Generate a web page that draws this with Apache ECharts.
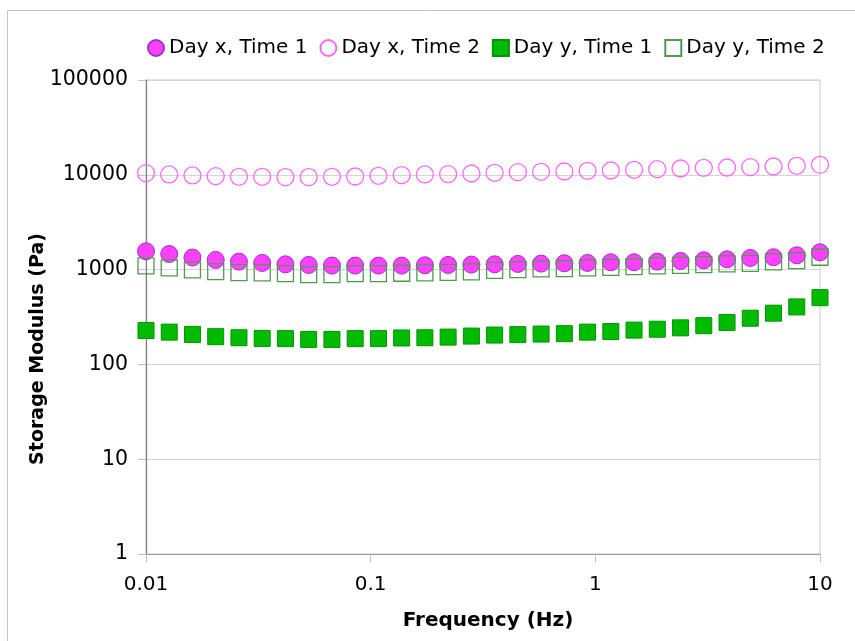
<!DOCTYPE html>
<html>
<head>
<meta charset="utf-8">
<title>Storage Modulus vs Frequency</title>
<script src="https://cdn.jsdelivr.net/npm/echarts@6/dist/echarts.min.js"></script>
<style>
  html, body { margin: 0; padding: 0; background: #ffffff; }
  #chart { width: 855px; height: 641px; }
</style>
</head>
<body>
<div id="chart"></div>
<script>
// Frequency sweep points (Hz)
const frequency = [0.01, 0.01269, 0.01610, 0.02043, 0.02593, 0.03290, 0.04175, 0.05298, 0.06723, 0.08532,
  0.1083, 0.1374, 0.1743, 0.2212, 0.2807, 0.3562, 0.4520, 0.5736, 0.7279, 0.9237,
  1.172, 1.487, 1.887, 2.395, 3.039, 3.857, 4.894, 6.210, 7.880, 10];

// Storage modulus G' (Pa) for each sample
const dayXTime1 = [1560, 1460, 1340, 1265, 1214, 1176, 1137, 1120, 1102, 1102,
  1102, 1102, 1110, 1120, 1129, 1137, 1148, 1157, 1166, 1176,
  1195, 1195, 1214, 1235, 1254, 1284, 1328, 1349, 1416, 1523];
const dayXTime2 = [10420, 10080, 9840, 9690, 9530, 9530, 9460, 9460, 9530, 9600,
  9760, 9930, 10080, 10170, 10320, 10500, 10670, 10760, 10840, 11020,
  11100, 11290, 11480, 11660, 11850, 11940, 12050, 12240, 12450, 12740];
const dayYTime1 = [228, 219, 207, 196, 191, 188, 187, 183.5, 183.5, 187,
  187, 190, 191, 194, 199, 204, 206, 209, 211, 219,
  222, 230, 235, 243, 256, 277, 307, 347, 404, 506];
const dayYTime2 = [1094, 1042, 993, 952, 929, 922, 908, 886, 886, 908,
  908, 915, 922, 936, 948, 980, 1000, 1017, 1024, 1042,
  1058, 1076, 1094, 1110, 1129, 1148, 1166, 1205, 1245, 1349];

const seriesNames = ['Day x, Time 1', 'Day x, Time 2', 'Day y, Time 1', 'Day y, Time 2'];

const xTitle = 'Frequency (Hz)';
const yTitle = 'Storage Modulus (Pa)';

const FONT = '"DejaVu Sans", Verdana, sans-serif';

function pairs(values) {
  return frequency.map((f, i) => [f, values[i]]);
}

function fmt(v) {
  return String(+Number(v).toPrecision(6));
}

const chart = echarts.init(document.getElementById('chart'), null, { renderer: 'canvas' });

chart.setOption({
  backgroundColor: '#ffffff',
  animation: false,
  textStyle: { fontFamily: FONT },
  graphic: [
    {
      type: 'rect',
      z: -10,
      shape: { x: 7.5, y: 10.5, width: 900, height: 700 },
      style: { fill: 'none', stroke: '#c4c4c4', lineWidth: 1 }
    },
    {
      type: 'text',
      x: 38, y: 349,
      rotation: Math.PI / 2,
      style: {
        text: yTitle,
        textAlign: 'center',
        textVerticalAlign: 'middle',
        font: 'bold 19px ' + FONT,
        fill: '#000000'
      }
    },
    {
      type: 'text',
      x: 488, y: 621,
      style: {
        text: xTitle,
        textAlign: 'center',
        textVerticalAlign: 'middle',
        font: 'bold 20px ' + FONT,
        fill: '#000000'
      }
    }
  ],
  legend: {
    left: 142,
    top: 33,
    itemWidth: 16,
    itemHeight: 16,
    itemGap: 12,
    textStyle: { fontSize: 20, color: '#000000', fontFamily: FONT },
    data: seriesNames
  },
  grid: {
    left: 146,
    right: 35,
    top: 80,
    bottom: 87,
    show: true,
    borderColor: '#c8c8c8',
    borderWidth: 1,
    backgroundColor: 'transparent'
  },
  xAxis: {
    type: 'log',
    logBase: 10,
    min: 0.01,
    max: 10,
    axisLine: { show: true, lineStyle: { color: '#9a9a9a', width: 1 } },
    axisTick: { show: true, length: 8, lineStyle: { color: '#c0c0c0' } },
    splitLine: { show: false },
    minorTick: { show: false },
    axisLabel: {
      margin: 21,
      fontSize: 20,
      color: '#000000',
      fontFamily: FONT,
      formatter: fmt
    }
  },
  yAxis: {
    type: 'log',
    logBase: 10,
    min: 1,
    max: 100000,
    axisLine: { show: true, lineStyle: { color: '#808080', width: 1.2 } },
    axisTick: { show: true, length: 8, lineStyle: { color: '#c0c0c0' } },
    splitLine: { show: true, lineStyle: { color: '#d4d4d4', width: 1 } },
    axisLabel: {
      margin: 18,
      fontSize: 20.5,
      color: '#000000',
      fontFamily: FONT,
      formatter: fmt
    }
  },
  series: [
    {
      name: seriesNames[0],
      type: 'scatter',
      symbol: 'circle',
      symbolSize: 17,
      itemStyle: { color: '#ff40ff', borderColor: '#9933cc', borderWidth: 1, opacity: 1 },
      data: pairs(dayXTime1)
    },
    {
      name: seriesNames[1],
      type: 'scatter',
      symbol: 'circle',
      symbolSize: 17,
      itemStyle: { color: 'rgba(255,255,255,0)', borderColor: '#ff66ff', borderWidth: 1.3, opacity: 1 },
      data: pairs(dayXTime2)
    },
    {
      name: seriesNames[2],
      type: 'scatter',
      symbol: 'rect',
      symbolSize: 16,
      itemStyle: { color: '#00bb00', borderColor: '#009400', borderWidth: 1, opacity: 1 },
      data: pairs(dayYTime1)
    },
    {
      name: seriesNames[3],
      type: 'scatter',
      symbol: 'rect',
      symbolSize: 16,
      itemStyle: { color: 'rgba(255,255,255,0)', borderColor: '#4f9a4f', borderWidth: 1.3, opacity: 1 },
      data: pairs(dayYTime2)
    }
  ]
});
</script>
</body>
</html>
